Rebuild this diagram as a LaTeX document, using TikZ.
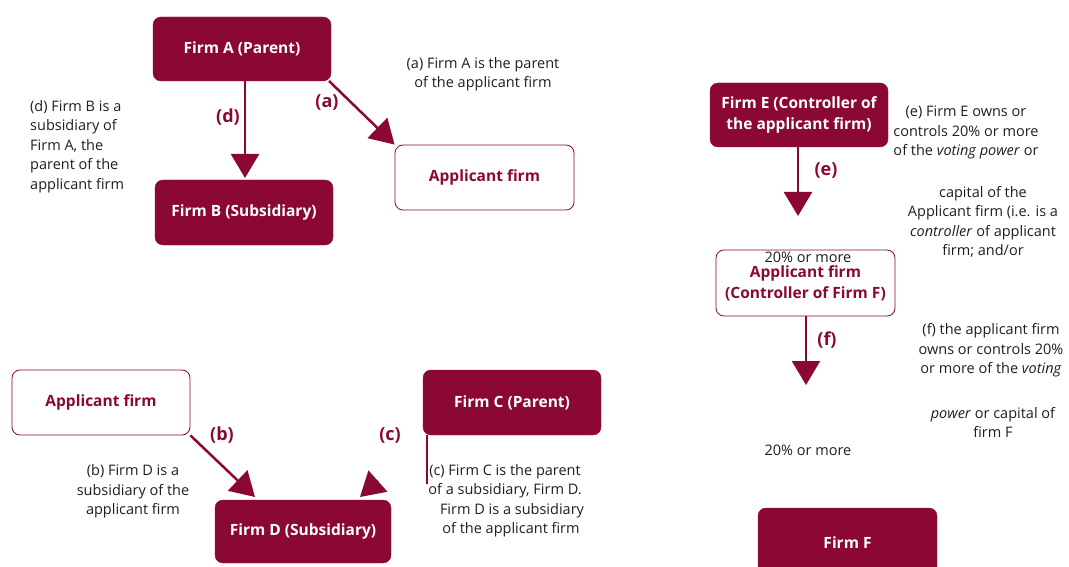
\documentclass[tikz,border=0pt]{standalone}
\usepackage{fontspec}
\setmainfont{Open Sans}
\usetikzlibrary{arrows.meta}
\definecolor{maroon}{HTML}{8A0832}
\definecolor{txt}{HTML}{1E1E1E}
\begin{document}
\begin{tikzpicture}[x=1pt,y=-1pt,
  firm/.style={rectangle,rounded corners=8pt,fill=maroon,draw=maroon,text=white,font=\bfseries\fontsize{15.5}{21}\selectfont,align=center,inner sep=0pt},
  appl/.style={rectangle,rounded corners=8pt,fill=white,draw=maroon,line width=0.8pt,text=maroon,font=\bfseries\fontsize{15.5}{21}\selectfont,align=center,inner sep=0pt},
  lab/.style={text=maroon,font=\bfseries\fontsize{18}{21}\selectfont},
  note/.style={text=txt,font=\fontsize{14.5}{19.5}\selectfont,align=center,inner sep=0pt},
  notel/.style={text=txt,font=\fontsize{14.5}{19.5}\selectfont,align=left,inner sep=0pt},
  conn/.style={draw=maroon,line width=2.5pt,-{Triangle[width=28pt,length=24pt]}},
]
\useasboundingbox (0,0) rectangle (1069,567);
% top-left group
\node[firm,minimum width=178pt,minimum height=64pt] (A) at (242,49) {Firm A (Parent)};
\node[firm,minimum width=178pt,minimum height=65pt] (B) at (244,212.5) {Firm B (Subsidiary)};
\node[appl,minimum width=179pt,minimum height=65pt] (P1) at (484.5,177.5) {Applicant firm};
\coordinate (dstart) at (245,81);
\coordinate (dend) at (245,178);
\draw[conn] (dstart) -- (dend);
\coordinate (astart) at (329,81);
\draw[conn] (astart) -- (P1.north west);
\node[lab] (ld) at (228,117) {(d)};
\node[lab] (la) at (327,102) {(a)};
\node[note] (ta) at (483,74) {(a) Firm A is the parent\\of the applicant firm};
\node[notel,anchor=north west] (td) at (30,100) {(d) Firm B is a\\subsidiary of\\Firm A, the\\parent of the\\applicant firm};
% bottom-left group
\node[appl,minimum width=178pt,minimum height=65pt] (P2) at (101,402.5) {Applicant firm};
\node[firm,minimum width=178pt,minimum height=65pt] (C) at (512,402.5) {Firm C (Parent)};
\node[firm,minimum width=176pt,minimum height=63pt] (D) at (303,531.5) {Firm D (Subsidiary)};
\coordinate (btip) at (255,497);
\draw[conn] (P2.south east) -- (btip);
\coordinate (cstart) at (427,435);
\coordinate (cmid) at (427,484);
\draw[draw=maroon,line width=1.5pt] (cstart) -- (cmid);
\coordinate (chead) at (378,481);
\coordinate (ctip) at (360,497);
\draw[conn] (chead) -- (ctip);
\node[lab] (lb) at (222,435) {(b)};
\node[lab] (lc) at (390,435) {(c)};
\node[note] (tb) at (133,491.5) {(b) Firm D is a\\subsidiary of the\\applicant firm};
\node[note] (tc) at (505,500.5) {(c) Firm C is the parent\\of a subsidiary, Firm D.\\\hspace*{14pt}Firm D is a subsidiary\\\hspace*{12pt}of the applicant firm};
% right group
\node[firm,minimum width=178pt,minimum height=64pt] (E) at (799,115) {Firm E (Controller of\\the applicant firm)};
\node[appl,minimum width=179pt,minimum height=66pt] (P3) at (805.5,283) {Applicant firm\\(Controller of Firm F)};
\node[firm,minimum width=179pt,minimum height=70pt] (F) at (847.5,543) {Firm F};
\coordinate (eend) at (798,216);
\draw[conn] (E.south -| eend) -- (eend);
\coordinate (fend) at (806,385);
\draw[conn] (P3.south -| fend) -- (fend);
\node[lab] (le) at (826,170) {(e)};
\node[lab] (lf) at (827,340) {(f)};
\node[note] (p1) at (808,257) {20\% or more};
\node[note] (p2) at (808,450) {20\% or more};
\node[note] (te1) at (966,132.5) {(e) Firm E owns or\\controls 20\% or more\\of the \textit{voting power} or};
\node[note] (te2) at (983,222) {capital of the\\Applicant firm (i.e. is a\\\textit{controller} of applicant\\firm; and/or};
\node[note] (tf1) at (991,350.5) {(f) the applicant firm\\owns or controls 20\%\\or more of the \textit{voting}};
\node[note] (tf2) at (993,422.5) {\textit{power} or capital of\\firm F};
\end{tikzpicture}
\end{document}
